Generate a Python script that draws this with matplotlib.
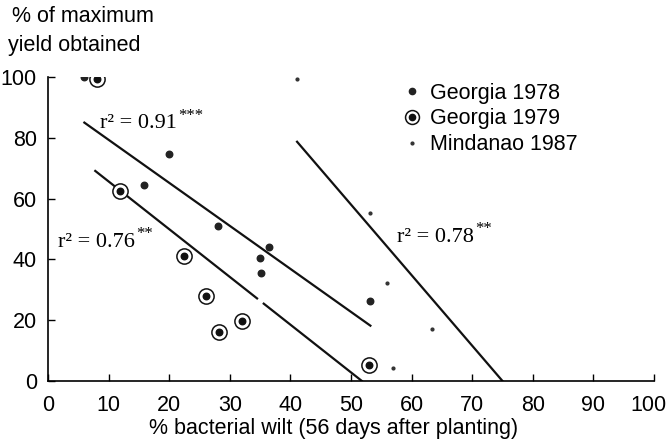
import numpy as np
import matplotlib.pyplot as plt
from matplotlib.lines import Line2D
from matplotlib.legend_handler import HandlerTuple
from matplotlib.transforms import offset_copy, ScaledTranslation

plt.rcParams['font.family'] = ['Liberation Sans', 'DejaVu Sans']

# dados
ga78_x = [5.9, 15.9, 19.9, 28.0, 35.0, 35.1, 36.4, 53.2]
ga78_y = [100, 64.5, 74.6, 51.1, 40.6, 35.6, 44.2, 26.4]

ga79_x = [8.1, 11.9, 22.5, 26.1, 28.2, 32.0, 52.9]
ga79_y = [99.5, 62.5, 41.2, 28.0, 16.1, 19.8, 5.3]

mind_x = [41.1, 53.2, 56.0, 57.0, 63.4]
mind_y = [99.3, 55.4, 32.1, 4.2, 17.0]

# retas de regressao (extremos)
reta78_x = [6.0, 53.2]
reta78_y = [85.0, 18.2]
reta79_x = [7.8, 51.8]
reta79_y = [69.1, 0.0]
lacuna79 = (34.5, 35.6)   # pequena falha no traco original
reta87_x = [41.1, 75.0]
reta87_y = [78.7, 0.0]

# textos de r2: (x, y, texto, estrelas)
r2_textos = [(8.6, 83.2, 'r² = 0.91', '***'),
             (1.7, 44.2, 'r² = 0.76', '**'),
             (57.6, 45.8, 'r² = 0.78', '**')]

fig = plt.figure(figsize=(6.7, 4.48), dpi=100)
ax = fig.add_axes([48/670, 1 - 381/448, (654 - 48)/670, (381 - 77)/448])

# retas
ax.plot(reta78_x, reta78_y, color='#111111', lw=1.6)
a = (reta79_y[1] - reta79_y[0]) / (reta79_x[1] - reta79_x[0])
def y79(x):
    return reta79_y[0] + a * (x - reta79_x[0])
ax.plot([reta79_x[0], lacuna79[0]], [reta79_y[0], y79(lacuna79[0])], color='#111111', lw=1.6)
ax.plot([lacuna79[1], reta79_x[1]], [y79(lacuna79[1]), reta79_y[1]], color='#111111', lw=1.6)
ax.plot(reta87_x, reta87_y, color='#111111', lw=1.6)

# pontos
ax.scatter(ga78_x, ga78_y, s=22, color='#222222', zorder=3)
ax.scatter(ga79_x, ga79_y, s=120, facecolor='white', edgecolor='#111111', linewidth=1.1, zorder=3)
ax.scatter(ga79_x, ga79_y, s=22, color='#111111', zorder=4)
ax.scatter(mind_x, mind_y, s=4, color='#333333', zorder=3)

ax.set_xlim(0, 100)
ax.set_ylim(0, 100)

# anotacoes r2 (fonte serifada, estrelas em sobrescrito)
fig.canvas.draw()
r = fig.canvas.get_renderer()
for x, y, txt, est in r2_textos:
    t = ax.text(x, y, txt, fontsize=16, va='baseline', family='Liberation Serif')
    bb = t.get_window_extent(r)
    xd, _ = ax.transData.inverted().transform((bb.x1 + 1, 0))
    ax.text(xd, y, est, fontsize=12, va='baseline', family='Liberation Serif',
            transform=offset_copy(ax.transData, fig=fig, x=0, y=6, units='points'))

# legenda
h78 = Line2D([], [], ls='none', marker='o', ms=4.5, color='#222222')
h79a = Line2D([], [], ls='none', marker='o', ms=10, mfc='white', mec='#111111', mew=1.1)
h79b = Line2D([], [], ls='none', marker='o', ms=4.5, color='#111111')
h87 = Line2D([], [], ls='none', marker='o', ms=2, color='#333333')
ax.legend([h78, (h79a, h79b), h87], ['Georgia 1978', 'Georgia 1979', 'Mindanao 1987'],
          handler_map={tuple: HandlerTuple(ndivide=1)},
          loc='upper left', bbox_to_anchor=(0.555, 1.045), frameon=False,
          fontsize=15.5, handlelength=0.8, handletextpad=0.4, labelspacing=0.22)

ax.set_xticks(np.arange(0, 101, 10))
ax.set_yticks(np.arange(0, 101, 20))
ax.tick_params(direction='in', length=5, width=1, labelsize=15.5, pad=8)
ax.tick_params(axis='x', pad=10)
ax.spines['top'].set_visible(False)
ax.spines['right'].set_visible(False)
for s in ['left', 'bottom']:
    ax.spines[s].set_linewidth(1.2)

# ultimo rotulo do eixo x um pouco para a esquerda (como no original)
fig.canvas.draw()
ult = ax.get_xticklabels()[-1]
ult.set_transform(ult.get_transform() + ScaledTranslation(-6/100, 0, fig.dpi_scale_trans))

fig.text(334/670, 1 - 428/448, '% bacterial wilt (56 days after planting)', fontsize=15.5,
         ha='center', va='center')
fig.text(12/670, 1 - 17/448, '% of maximum', fontsize=15.5, va='center', ha='left')
fig.text(8/670, 1 - 45/448, 'yield obtained', fontsize=15.5, va='center', ha='left')

fig.savefig('out.png', dpi=100)
